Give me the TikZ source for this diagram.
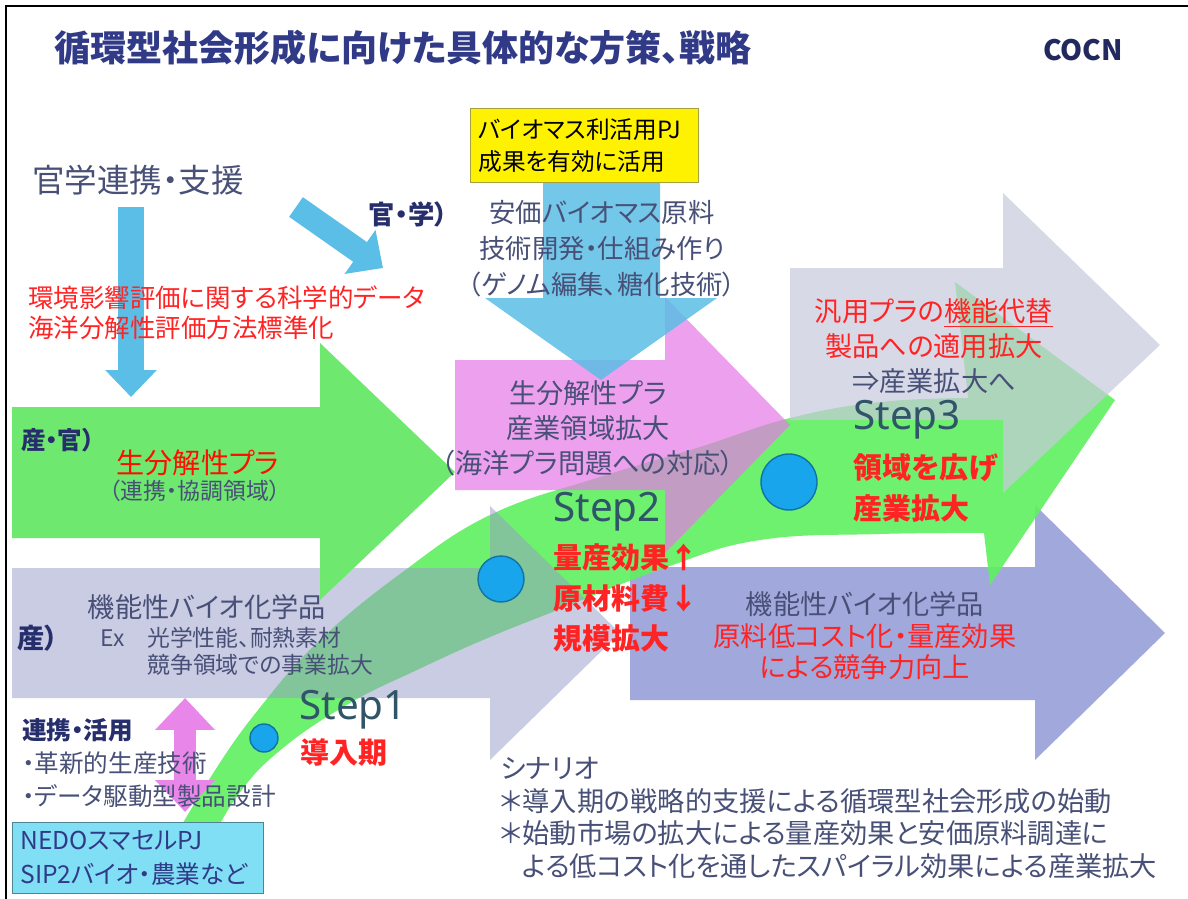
\documentclass[tikz,border=0pt]{standalone}
\usepackage{fontspec}
\setmainfont{Noto Sans CJK JP}[RawFeature=+palt]
\newfontfamily\stepfont{Noto Sans}
\usetikzlibrary{arrows.meta}

\definecolor{navy}{RGB}{48,58,135}
\definecolor{txtgray}{RGB}{72,80,120}
\definecolor{redtx}{RGB}{255,35,35}
\definecolor{skyblue}{RGB}{91,190,230}
\definecolor{biggreen}{RGB}{110,232,110}
\definecolor{bandgreen}{RGB}{95,240,95}
\definecolor{pinkar}{RGB}{230,120,230}
\definecolor{lavender}{RGB}{150,155,200}
\definecolor{bluepurple}{RGB}{145,155,215}
\definecolor{greyar}{RGB}{200,202,222}
\definecolor{ballblue}{RGB}{25,165,235}
\definecolor{cyanbox}{RGB}{128,222,245}
\definecolor{steptx}{RGB}{48,84,104}

\newcommand{\fsz}[2]{\fontsize{#1}{#2}\selectfont}

\tikzset{
  txt/.style={text=txtgray, inner sep=0pt},
  redtxt/.style={text=redtx, inner sep=0pt},
  steptxt/.style={text=steptx, inner sep=0pt, font=\stepfont\fsz{23}{26}},
  ball/.style={circle, inner sep=0pt, fill=ballblue, draw=ballblue!70!black, line width=0.8pt},
}

\begin{document}
\begin{tikzpicture}[x=0.02cm, y=-0.02cm]
	\fill[white] (0,0) rectangle (1188,899);
	\useasboundingbox (0,0) rectangle (1188,899);
	\draw[line width=1.2pt] (6,899) -- (6,6) -- (1188,6);

	% big block arrows
	\fill[bluepurple, fill opacity=0.85] (630,567) -- (1035,567) -- (1035,505) -- (1165,633)
		-- (1035,760) -- (1035,700) -- (630,700) -- cycle;
	\fill[bandgreen, fill opacity=0.9]
		plot[smooth, tension=0.7] coordinates {(150,880) (212,775) (262,705) (320,640) (400,574)
			(490,515) (600,477) (700,447) (790,418) (880,402) (968,398)}
		-- (955,282) -- (1115,400) -- (990,585) -- (984,533)
		-- plot[smooth, tension=0.7] coordinates {(984,533) (880,534) (760,540) (667,567) (550,613)
			(483,640) (417,670) (350,703) (283,748) (238,795) (200,860) (185,880)}
		-- cycle;
	\fill[lavender, fill opacity=0.5] (12,568) -- (490,568) -- (490,506) -- (620,633)
		-- (490,760) -- (490,698) -- (12,698) -- cycle;
	\fill[biggreen] (12,407) -- (320,407) -- (320,343) -- (455,472)
		-- (320,600) -- (320,538) -- (12,538) -- cycle;
	\fill[pinkar, fill opacity=0.7] (455,360) -- (665,360) -- (665,297) -- (790,425)
		-- (665,553) -- (665,490) -- (455,490) -- cycle;
	\fill[skyblue, fill opacity=0.85] (543,182) -- (660,182) -- (660,298) -- (717,298)
		-- (601,380) -- (485,298) -- (543,298) -- cycle;
	\fill[greyar, fill opacity=0.7] (790,268) -- (1003,268) -- (1003,193) -- (1160,345)
		-- (1003,493) -- (1003,420) -- (790,420) -- cycle;

	% small arrows
	\coordinate (kgtop) at (131,207);
	\coordinate (kgtip) at (131,397);
	\coordinate (diagtail) at (296,207);
	\coordinate (diagtip) at (383,268);
	\coordinate (ptop) at (185,698);
	\coordinate (pbot) at (185,812);
	\draw[skyblue, line width=0.54cm, -{Triangle[width=1cm, length=0.54cm]}] (kgtop) -- (kgtip);
	\draw[skyblue, line width=0.48cm, -{Triangle[width=1.04cm, length=0.56cm]}] (diagtail) -- (diagtip);
	\draw[pinkar!90!white, line width=0.44cm,
		{Triangle[width=1.16cm, length=0.64cm]}-{Triangle[width=1.16cm, length=0.64cm]}] (ptop) -- (pbot);

	% boxes
	\node (biobox) [fill=yellow, draw=yellow!60!black, anchor=north west, inner sep=0pt,
		minimum width=4.56cm, minimum height=1.48cm, text width=4.24cm, align=left,
		font=\fsz{13.5}{18}] at (470,108) {バイオマス利活用PJ\\成果を有効に活用};
	\node (nedobox) [fill=cyanbox, draw=cyanbox!60!black, anchor=north west, inner sep=0pt,
		minimum width=5.02cm, minimum height=1.42cm, text width=4.7cm, align=left,
		text=navy, font=\fsz{14}{19.5}] at (12,822) {NEDOスマセルPJ\\SIP2バイオ・農業など};

	% texts
	\node (title) [text=navy, font=\bfseries\fsz{20.5}{24}] at (403,48) {循環型社会形成に向けた具体的な方策、戦略};
	\node (cocn) [text=navy!70!black, font=\bfseries\fsz{16}{19}] at (1083,50) {COCN};
	\node (kangaku) [txt, font=\fsz{18.5}{22}] at (138,180) {官学連携・支援};
	\node (kgtag) [txt, text=navy!80!black, font=\bfseries\fsz{15}{18}] at (408,214) {官・学）};
	\node (envdata) [redtxt, anchor=west, align=left, font=\fsz{14.5}{17}] at (28,313)
		{環境影響評価に関する科学的データ\\海洋分解性評価方法標準化};
	\node (cheapbio) [txt, align=center, font=\fsz{15}{20.5}] at (602,249)
		{安価バイオマス原料\\技術開発・仕組み作り\\（ゲノム編集、糖化技術）};
	\node (sgtag) [txt, text=navy!80!black, font=\bfseries\fsz{14}{17}] at (58,440) {産・官）};
	\node (greenmain) [text=red!90!orange, inner sep=0pt, font=\fsz{16}{19}] at (198,463) {生分解性プラ};
	\node (greensub) [txt, font=\fsz{13}{16}] at (195,491) {（連携・協調領域）};
	\node (pinktxt) [txt, align=center, font=\fsz{15.5}{20}] at (588,428)
		{生分解性プラ\\産業領域拡大\\（海洋プラ問題への対応）};
	\node (greytxt) [txt, align=center, font=\fsz{15.5}{20}] at (934,346)
		{\textcolor{redtx}{汎用プラの\underline{機能代替}}\\\textcolor{redtx}{製品への適用拡大}\\⇒産業拡大へ};
	\node (leftmain) [txt, font=\fsz{15.5}{19}] at (207,607) {機能性バイオ化学品};
	\node (stag) [txt, text=navy!80!black, font=\bfseries\fsz{15.5}{18}] at (38,638) {産）};
	\node (leftex) [txt, anchor=west, font=\fsz{13}{16}] at (100,638) {Ex　光学性能、耐熱素材};
	\node (leftsub) [txt, anchor=west, font=\fsz{13}{16}] at (147,665) {競争領域での事業拡大};
	\node (rightmain) [txt, align=center, font=\fsz{15.5}{18}] at (865,636)
		{機能性バイオ化学品\\\textcolor{redtx}{原料低コスト化・量産効果}\\\textcolor{redtx}{による競争力向上}};
	\node (linklist) [txt, anchor=west, align=left, font=\fsz{14}{18.8}] at (22,763)
		{\textcolor{navy!80!black}{\bfseries 連携・活用}\\・革新的生産技術\\・データ駆動型製品設計};
	\node (scenario) [txt, anchor=west, align=left, font=\fsz{15.5}{18.6}] at (500,818)
		{シナリオ\\＊導入期の戦略的支援による循環型社会形成の始動\\＊始動市場の拡大による量産効果と安価原料調達に\\\hspace*{0.44cm}よる低コスト化を通したスパイラル効果による産業拡大};

	% steps
	\node (c1) [ball, minimum size=0.56cm] at (264,738) {};
	\node (c2) [ball, minimum size=0.92cm] at (501,579) {};
	\node (c3) [ball, minimum size=1.12cm] at (789,482) {};
	\node (step1) [steptxt] at (353,710) {Step1};
	\node (step2) [steptxt] at (607,512) {Step2};
	\node (step3) [steptxt] at (907,420) {Step3};
	\node (step1txt) [redtxt, anchor=west, font=\bfseries\fsz{16.5}{20}] at (300,752) {導入期};
	\node (step2txt) [redtxt, anchor=west, align=left, font=\bfseries\fsz{16.5}{22.8}] at (553,598)
		{量産効果↑\\原材料費↓\\規模拡大};
	\node (step3txt) [redtxt, anchor=west, align=left, font=\bfseries\fsz{16.5}{23.3}] at (853,488)
		{領域を広げ\\産業拡大};
\end{tikzpicture}
\end{document}
